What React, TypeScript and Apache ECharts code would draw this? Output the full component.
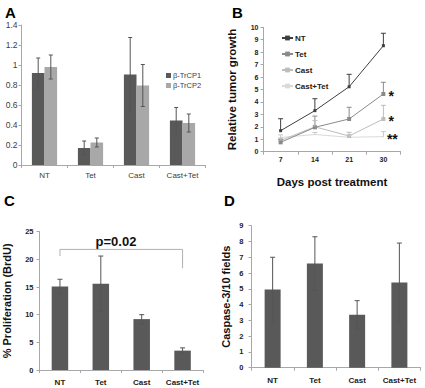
import React, { useEffect, useRef } from 'react';
import * as echarts from 'echarts';

// Shared categories
const groups = ['NT', 'Tet', 'Cast', 'Cast+Tet'];

// Panel A: β-TrCP expression
const trcp1 = [0.92, 0.17, 0.905, 0.445];
const trcp1Err = [0.15, 0.07, 0.37, 0.13];
const trcp2 = [0.98, 0.225, 0.795, 0.42];
const trcp2Err = [0.12, 0.045, 0.21, 0.09];

// Panel B: relative tumor growth
const days = ['7', '14', '21', '30'];
const growthNames = ['NT', 'Tet', 'Cast', 'Cast+Tet'];
const growthNT = [1.69, 3.3, 5.22, 8.52];
const growthNTErr = [0.96, 0.96, 1.0, 1.0];
const growthTet = [0.75, 1.96, 2.63, 4.64];
const growthTetErr = [0.25, 0.9, 0.94, 0.94];
const growthCast = [0.9, 2.0, 1.26, 2.63];
const growthCastErr = [0.2, 0.5, 0.3, 1.1];
const growthCastTet = [1.15, 1.38, 1.16, 1.21];
const growthCastTetErr = [0.2, 0.17, 0.2, 0.4];
const significance = ['', '*', '*', '**'];

// Panel C: % proliferation (BrdU)
const brdu = [15.1, 15.6, 9.2, 3.5];
const brduErr = [1.3, 5.0, 0.8, 0.5];
const pValueText = 'p=0.02';

// Panel D: caspase-3 / 10 fields
const casp = [4.95, 6.6, 3.35, 5.4];
const caspErr = [2.05, 1.7, 0.9, 2.5];

const FONT = 'Liberation Sans, Arial, sans-serif';

function errRender(offset: number, cap: number, color: string, plusOnly: boolean) {
  return (params: any, api: any) => {
    const x = api.value(0);
    const lo = api.value(2);
    const hi = api.value(3);
    const top = api.coord([x, hi]);
    const bot = api.coord([x, lo]);
    const cx = top[0] + offset;
    const st = { stroke: color, lineWidth: 1 };
    const children: any[] = [
      { type: 'line', shape: { x1: cx, y1: top[1], x2: cx, y2: bot[1] }, style: st },
      { type: 'line', shape: { x1: cx - cap, y1: top[1], x2: cx + cap, y2: top[1] }, style: st },
    ];
    if (!plusOnly) {
      children.push({ type: 'line', shape: { x1: cx - cap, y1: bot[1], x2: cx + cap, y2: bot[1] }, style: st });
    }
    return { type: 'group', children };
  };
}

const errData = (vals: number[], errs: number[], plusOnly = false) =>
  vals.map((v, i) => [i, v, plusOnly ? v : v - errs[i], v + errs[i]]);

function bracketRender(params: any, api: any) {
  const x0 = api.value(0);
  const x1 = api.value(1);
  const yTop = api.value(2);
  const yL = api.value(3);
  const yR = api.value(4);
  const a = api.coord([x0, yL]);
  const b = api.coord([x0, yTop]);
  const c = api.coord([x1, yTop]);
  const d = api.coord([x1, yR]);
  return {
    type: 'polyline',
    shape: { points: [a, b, c, d] },
    style: { stroke: '#b0b0b0', lineWidth: 1, fill: null },
  };
}

const axisLineStyle = { lineStyle: { color: '#a8a8a8', width: 1 } };

function catAxis(gridIndex: number, data: string[], fontSize: number, bold: boolean, margin: number, color: string, extra: any = {}) {
  return {
    type: 'category',
    gridIndex,
    data,
    boundaryGap: true,
    axisLine: axisLineStyle,
    axisTick: { show: true, length: 3, lineStyle: { color: '#a8a8a8' } },
    axisLabel: { interval: 0, fontSize, fontWeight: bold ? 'bold' : 'normal', color, margin, fontFamily: FONT },
    splitLine: { show: false },
    ...extra,
  };
}

function valAxis(gridIndex: number, max: number, interval: number, fontSize: number, bold: boolean, margin: number, color: string, extra: any = {}) {
  return {
    type: 'value',
    gridIndex,
    min: 0,
    max,
    interval,
    axisLine: { show: true, ...axisLineStyle },
    axisTick: { show: true, length: 3, lineStyle: { color: '#a8a8a8' } },
    axisLabel: { fontSize, fontWeight: bold ? 'bold' : 'normal', color, margin, fontFamily: FONT },
    splitLine: { show: false },
    ...extra,
  };
}

export default function App() {
  const ref = useRef<HTMLDivElement>(null);
  useEffect(() => {
    if (!ref.current) return;
    const chart = echarts.init(ref.current, undefined, { renderer: 'svg' });
    const lineColors = ['#3f3f3f', '#8a8a8a', '#bdbdbd', '#dadada'];
    const symbols = ['rect', 'rect', 'rect', 'rect'];
    const symbolSizes = [3, 4, 4, 1];
    const growthVals = [growthNT, growthTet, growthCast, growthCastTet];
    const growthErrs = [growthNTErr, growthTetErr, growthCastErr, growthCastTetErr];

    const growthSeries = growthVals.map((vals, k) => ({
      type: 'line',
      name: growthNames[k],
      xAxisIndex: 1,
      yAxisIndex: 1,
      symbol: symbols[k],
      symbolSize: symbolSizes[k],
      lineStyle: { color: lineColors[k], width: 1 },
      itemStyle: { color: lineColors[k] },
      z: 4 - k,
      data: vals.map((v, i) => {
        const last = i === vals.length - 1 && significance[k] !== '';
        return last
          ? {
              value: v,
              label: {
                show: true,
                formatter: significance[k],
                position: 'right',
                distance: 3,
                offset: [0, 2],
                fontSize: 14,
                fontWeight: 'bold',
                color: '#111',
                fontFamily: FONT,
              },
            }
          : v;
      }),
    }));

    const growthErrSeries = growthVals.map((vals, k) => ({
      type: 'custom',
      xAxisIndex: 1,
      yAxisIndex: 1,
      renderItem: errRender(0, 2.5, lineColors[k] === '#dadada' ? '#c8c8c8' : lineColors[k], true),
      data: errData(vals, growthErrs[k], true),
      z: 5,
      silent: true,
    }));

    const option: any = {
      animation: false,
      backgroundColor: '#ffffff',
      textStyle: { fontFamily: FONT },
      grid: [
        { left: 21.5, top: 25, width: 184, height: 140 },
        { left: 263.5, top: 27.3, width: 137, height: 124.4 },
        { left: 39.5, top: 231.7, width: 163.5, height: 138.3 },
        { left: 251.5, top: 225.7, width: 169, height: 142 },
      ],
      xAxis: [
        catAxis(0, groups, 8, false, 6, '#404040'),
        catAxis(1, days, 7, true, 4, '#222', {
          name: 'Days post treatment',
          nameLocation: 'middle',
          nameGap: 24,
          nameTextStyle: { fontSize: 11.5, fontWeight: 'bold', color: '#111', fontFamily: FONT },
        }),
        catAxis(2, groups, 8, true, 8, '#222'),
        catAxis(3, groups, 8, true, 9, '#222'),
      ],
      yAxis: [
        valAxis(0, 1.4, 0.2, 8.5, false, 4, '#404040'),
        valAxis(1, 10, 1, 7, true, 5, '#222', {
          name: 'Relative tumor growth',
          nameLocation: 'middle',
          nameGap: 26,
          nameTextStyle: { fontSize: 11.5, fontWeight: 'bold', color: '#111', fontFamily: FONT },
        }),
        valAxis(2, 25, 5, 7.5, true, 6, '#222', {
          name: '% Proliferation (BrdU)',
          nameLocation: 'middle',
          nameGap: 27,
          nameTextStyle: { fontSize: 11, fontWeight: 'bold', color: '#111', fontFamily: FONT },
        }),
        valAxis(3, 9, 1, 7.5, true, 8, '#222', {
          name: 'Caspase-3/10 fields',
          nameLocation: 'middle',
          nameGap: 20,
          nameTextStyle: { fontSize: 11, fontWeight: 'bold', color: '#111', fontFamily: FONT },
        }),
      ],
      legend: [
        {
          data: ['β-TrCP1', 'β-TrCP2'],
          orient: 'vertical',
          left: 161,
          top: 66,
          icon: 'rect',
          itemWidth: 5,
          itemHeight: 5,
          itemGap: 1,
          textStyle: { fontSize: 7.5, lineHeight: 9, color: '#404040', fontFamily: FONT, padding: [0, 0, 0, -3] },
        },
        {
          data: growthNames,
          orient: 'vertical',
          left: 276,
          top: 28,
          itemWidth: 11,
          itemHeight: 6,
          itemGap: 6,
          textStyle: { fontSize: 8, lineHeight: 10, fontWeight: 'bold', color: '#222', fontFamily: FONT, padding: [0, 0, 0, -3] },
        },
      ],
      series: [
        {
          type: 'bar',
          name: 'β-TrCP1',
          xAxisIndex: 0,
          yAxisIndex: 0,
          barWidth: 12.6,
          barGap: '0%',
          itemStyle: { color: '#595959' },
          data: trcp1,
        },
        {
          type: 'bar',
          name: 'β-TrCP2',
          xAxisIndex: 0,
          yAxisIndex: 0,
          barWidth: 12.6,
          barGap: '0%',
          itemStyle: { color: '#a8a8a8' },
          data: trcp2,
        },
        {
          type: 'custom',
          xAxisIndex: 0,
          yAxisIndex: 0,
          renderItem: errRender(-6.3, 2, '#555', false),
          data: errData(trcp1, trcp1Err),
          z: 5,
          silent: true,
        },
        {
          type: 'custom',
          xAxisIndex: 0,
          yAxisIndex: 0,
          renderItem: errRender(6.3, 2, '#555', false),
          data: errData(trcp2, trcp2Err),
          z: 5,
          silent: true,
        },
        ...growthSeries,
        ...growthErrSeries,
        {
          type: 'bar',
          name: 'BrdU',
          xAxisIndex: 2,
          yAxisIndex: 2,
          barWidth: 16.5,
          itemStyle: { color: '#595959' },
          data: brdu,
        },
        {
          type: 'custom',
          xAxisIndex: 2,
          yAxisIndex: 2,
          renderItem: errRender(0, 2.5, '#555', false),
          data: errData(brdu, brduErr),
          z: 5,
          silent: true,
        },
        {
          type: 'custom',
          xAxisIndex: 2,
          yAxisIndex: 2,
          renderItem: bracketRender,
          data: [[0, 3, 21.8, 20.6, 18.4]],
          z: 5,
          silent: true,
        },
        {
          type: 'bar',
          name: 'Caspase',
          xAxisIndex: 3,
          yAxisIndex: 3,
          barWidth: 16,
          itemStyle: { color: '#595959' },
          data: casp,
        },
        {
          type: 'custom',
          xAxisIndex: 3,
          yAxisIndex: 3,
          renderItem: errRender(0, 2.5, '#555', false),
          data: errData(casp, caspErr),
          z: 5,
          silent: true,
        },
      ],
      graphic: [
        { type: 'text', left: 5, top: 5, style: { text: 'A', fontSize: 15, fontWeight: 'bold', fill: '#000', fontFamily: FONT } },
        { type: 'text', left: 232, top: 5, style: { text: 'B', fontSize: 15, fontWeight: 'bold', fill: '#000', fontFamily: FONT } },
        { type: 'text', left: 4, top: 193, style: { text: 'C', fontSize: 15, fontWeight: 'bold', fill: '#000', fontFamily: FONT } },
        { type: 'text', left: 224, top: 193, style: { text: 'D', fontSize: 15, fontWeight: 'bold', fill: '#000', fontFamily: FONT } },
        {
          type: 'text',
          x: 116,
          y: 241,
          style: { text: pValueText, fontSize: 13, fontWeight: 'bold', fill: '#111', fontFamily: FONT, align: 'center', verticalAlign: 'middle' },
        },
      ],
    };
    chart.setOption(option);
    return () => chart.dispose();
  }, []);
  return <div ref={ref} style={{ position: 'fixed', left: 0, top: 0, width: 425, height: 388 }} />;
}
